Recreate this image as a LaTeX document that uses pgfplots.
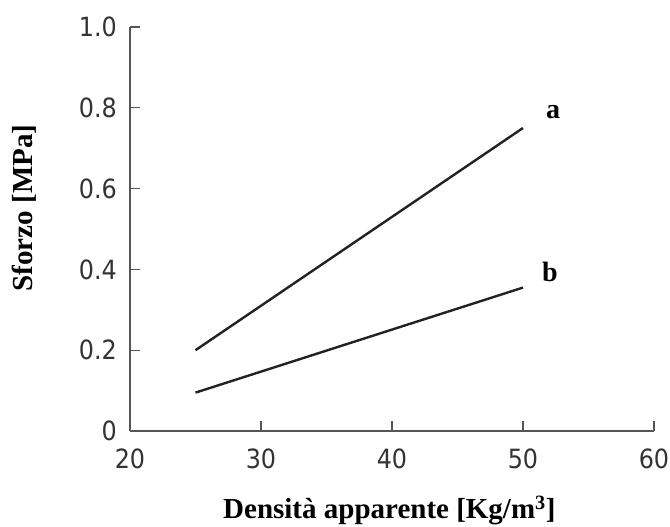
\documentclass[border=0pt]{standalone}
\usepackage{fontspec}
\setmainfont{Liberation Serif}
\newfontfamily\tickfont{DejaVu Sans Condensed}
\usepackage{pgfplots}
\pgfplotsset{compat=1.18}
\definecolor{axisgray}{HTML}{555555}
\definecolor{tickgray}{HTML}{333333}
\definecolor{linedark}{HTML}{222222}
\begin{document}
\begin{tikzpicture}
\begin{axis}[
  scale only axis,
  width=524pt, height=404pt,
  xmin=20, xmax=60, ymin=0, ymax=1,
  axis x line=bottom, axis y line=left,
  axis line style={-, draw=axisgray, line width=1.5pt},
  every tick/.style={draw=axisgray, line width=1.3pt},
  tick align=inside,
  major tick length=10pt,
  xtick={20,30,40,50,60},
  xticklabels={20,30,40,50,60},
  ytick={0,0.2,0.4,0.6,0.8,1.0},
  yticklabels={0,0.2,0.4,0.6,0.8,1.0},
  ticklabel style={font=\tickfont\fontsize{26.5}{30}\selectfont, text=tickgray, inner sep=0pt},
  xticklabel style={anchor=north, yshift=-18pt},
  yticklabel style={anchor=east, xshift=-13pt},
  xlabel={Densità apparente [Kg/m\textsuperscript{3}]},
  ylabel={Sforzo [MPa]},
  label style={font=\bfseries\fontsize{29}{32}\selectfont, text=black},
  xlabel style={at={(axis description cs:0.495,-0.2178)}, anchor=base},
  ylabel style={at={(axis description cs:-0.2023,0.552)}, anchor=center, rotate=0},
  clip=false,
]
\addplot[linedark, line width=2.4pt] coordinates {(25,0.2) (50,0.75)};
\addplot[linedark, line width=2.4pt] coordinates {(25,0.095) (50,0.355)};
\node[font=\bfseries\fontsize{28}{30}\selectfont] at (axis cs:52.3,0.79) {a};
\node[font=\bfseries\fontsize{28}{30}\selectfont] at (axis cs:52.06,0.394) {b};
\end{axis}
\pgfresetboundingbox
\useasboundingbox (-130pt,-96pt) rectangle (540pt,431pt);
\end{tikzpicture}
\end{document}
